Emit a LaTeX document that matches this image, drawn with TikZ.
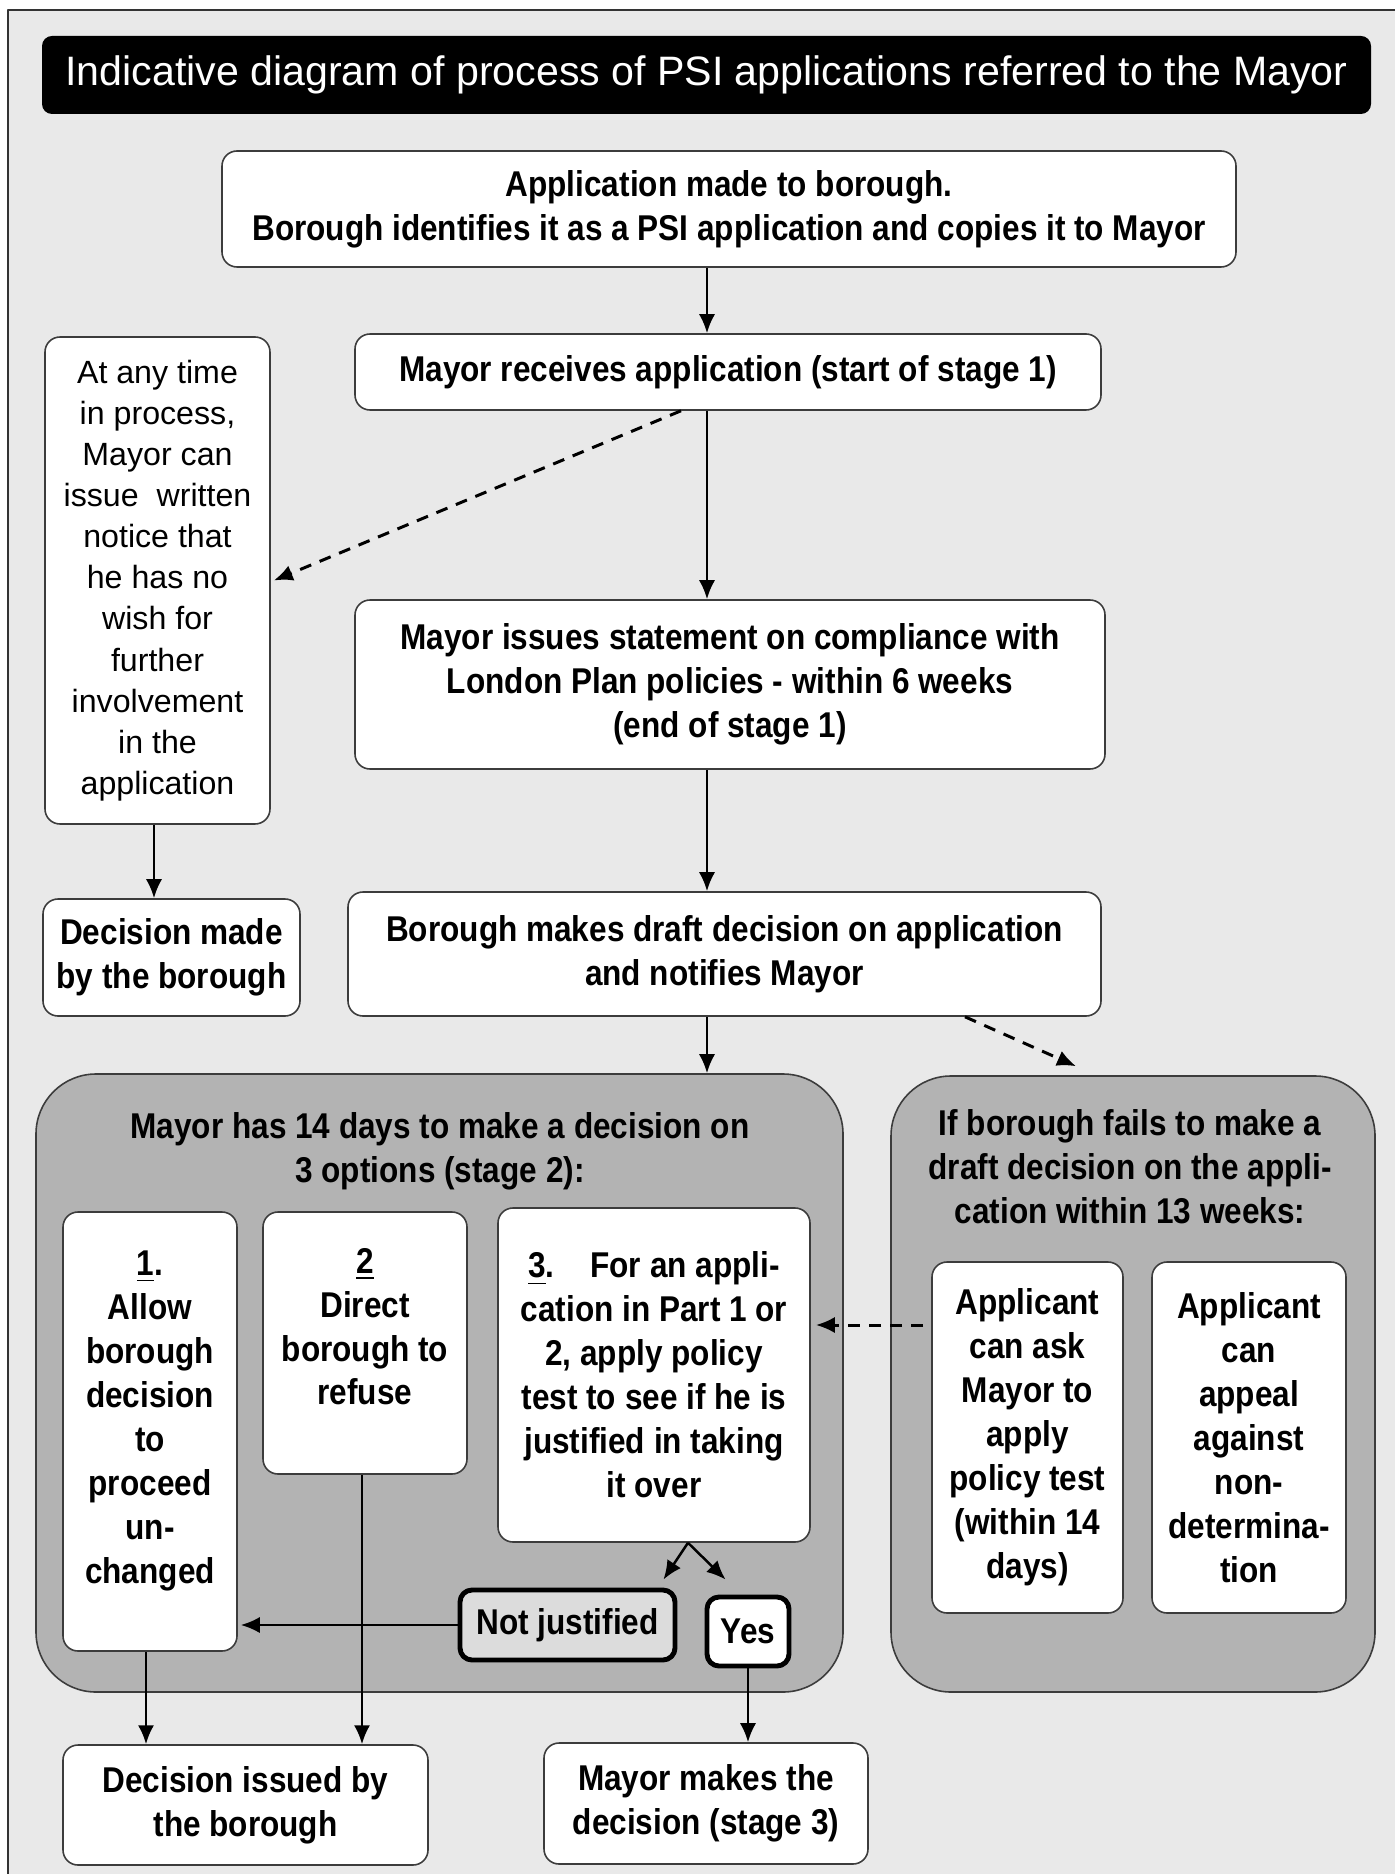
\documentclass[tikz,border=0pt]{standalone}
\usepackage{fontspec}
\setmainfont{Liberation Sans}
\newfontfamily\condfam[FakeStretch=0.88]{Liberation Sans}
\usepackage{tikz}
\usetikzlibrary{arrows.meta,positioning,calc}
\definecolor{pagebg}{HTML}{E9E9E9}
\definecolor{framecol}{HTML}{333333}
\definecolor{panelcol}{HTML}{B3B3B3}
\definecolor{njcol}{HTML}{DCDCDC}
\definecolor{boxline}{HTML}{3C3C3C}
\newcommand{\condtext}{\condfam\bfseries\fontsize{10.2}{12.5}\selectfont}
\tikzset{
  >={Latex[length=5.4pt,width=4.6pt]},
  stepbox/.style={rectangle, rounded corners=0.15cm, draw=boxline, fill=white,
                  line width=0.45pt, align=center, inner sep=0pt, font=\condtext},
  panel/.style={rectangle, rounded corners=0.6cm, draw=boxline, fill=panelcol,
                line width=0.45pt, inner sep=0pt},
  outcome/.style={rectangle, rounded corners=0.12cm, draw=black, line width=1.4pt,
                  align=center, inner sep=0pt, font=\condtext},
  flow/.style={->, line width=0.7pt, black},
  maybe/.style={->, line width=0.85pt, black, dash pattern=on 3.4pt off 2.6pt},
}

\begin{document}
\begin{tikzpicture}[x=1cm, y=-1cm, line join=round]
\useasboundingbox (0,0) rectangle (13.94,18.74);
\fill[white] (0,0) rectangle (13.94,18.74);
\draw[framecol, fill=pagebg, line width=0.6pt] (0.08,0.10) rectangle (14.20,19.00);

% ---- title ----
\node[rectangle, rounded corners=0.1cm, fill=black, text=white, minimum width=13.29cm,
      minimum height=0.78cm, inner sep=0pt, font=\fontsize{11.7}{14}\selectfont]
  (title) at (7.065,0.75) {Indicative diagram of process of PSI applications referred to the Mayor};

% ---- stage 1 spine ----
\node[stepbox, minimum width=10.14cm, minimum height=1.16cm] (appl) at (7.29,2.09)
  {Application made to borough.\\Borough identifies it as a PSI application and copies it to Mayor};
\node[stepbox, minimum width=7.46cm, minimum height=0.76cm] (recv) at (7.28,3.72)
  {Mayor receives application (start of stage 1)};
\node[stepbox, minimum width=7.50cm, minimum height=1.69cm] (stmt) at (7.30,6.845)
  {Mayor issues statement on compliance with\\London Plan policies - within 6 weeks\\(end of stage 1)};
\node[stepbox, minimum width=7.53cm, minimum height=1.24cm] (draft) at (7.245,9.54)
  {Borough makes draft decision on application\\and notifies Mayor};

% ---- withdrawal branch ----
\node[stepbox, font=\fontsize{9.15}{11.7}\selectfont, minimum width=2.25cm, minimum height=4.87cm]
  (notice) at (1.575,5.805)
  {At any time\\in process,\\Mayor can\\issue\ \ written\\notice that\\he has no\\wish for\\further\\involvement\\in the\\application};
\node[stepbox, minimum width=2.57cm, minimum height=1.17cm] (boro) at (1.715,9.575)
  {Decision made\\by the borough};

% ---- stage 2 panels ----
\node[panel, minimum width=8.07cm, minimum height=6.18cm] (stage2) at (4.395,13.83) {};
\node[font=\condtext, align=center, anchor=north] (stage2txt) at (4.40,11.00)
  {Mayor has 14 days to make a decision on\\3 options (stage 2):};
\node[panel, minimum width=4.84cm, minimum height=6.16cm] (lapse) at (11.33,13.84) {};
\node[font=\condtext, align=center, anchor=north] (lapsetxt) at (11.30,10.97)
  {If borough fails to make a\\draft decision on the appli-\\cation within 13 weeks:};

\node[stepbox, minimum width=1.74cm, minimum height=4.39cm] (opt1) at (1.50,14.315)
  {\underline{1}.\\Allow\\borough\\decision\\to\\proceed\\un-\\changed\\[-0.15cm]\mbox{}};
\node[stepbox, minimum width=2.04cm, minimum height=2.62cm] (opt2) at (3.65,13.43)
  {\underline{2}\\Direct\\borough to\\refuse\\[-0.11cm]\mbox{}};
\node[stepbox, minimum width=3.12cm, minimum height=3.34cm] (opt3) at (6.54,13.75)
  {\underline{3}.\quad For an appli-\\cation in Part 1 or\\2, apply policy\\test to see if he is\\justified in taking\\it over};
\node[outcome, fill=njcol, minimum width=2.15cm, minimum height=0.70cm] (nojust) at (5.675,16.25)
  {Not justified};
\node[outcome, fill=white, minimum width=0.82cm, minimum height=0.69cm] (yes) at (7.48,16.315)
  {Yes};

\node[stepbox, minimum width=1.91cm, minimum height=3.51cm] (askmayor) at (10.275,14.375)
  {Applicant\\can ask\\Mayor to\\apply\\policy test\\(within 14\\days)};
\node[stepbox, minimum width=1.94cm, minimum height=3.51cm] (appeal) at (12.49,14.375)
  {Applicant\\can\\appeal\\against\\non-\\determina-\\tion};

% ---- outcomes ----
\node[stepbox, minimum width=3.65cm, minimum height=1.20cm] (issued) at (2.455,18.05)
  {Decision issued by\\the borough};
\node[stepbox, minimum width=3.24cm, minimum height=1.21cm] (mayordec) at (7.06,18.035)
  {Mayor makes the\\decision (stage 3)};

% ---- connectors ----
\coordinate (spine) at (7.07,0);
\coordinate (waive) at (6.81,0);
\coordinate (late) at (9.65,0);
\coordinate (asky) at (0,13.25);
\coordinate (fork) at ([xshift=0.34cm]opt3.south);

\draw[flow] (appl.south -| spine) -- (recv.north -| spine);
\draw[flow] (recv.south -| spine) -- (stmt.north -| spine);
\draw[flow] (stmt.south -| spine) -- (draft.north -| spine);
\draw[flow] (draft.south -| spine) -- (stage2.north -| spine);
\draw[maybe] (recv.south -| waive) -- ([xshift=0.03cm]notice.east);
\draw[maybe] (draft.south -| late) -- ([xshift=-0.57cm,yshift=0.09cm]lapse.north);
\draw[flow] (notice.south -| 1.54,0) -- (boro.north -| 1.54,0);
\draw[maybe, shorten <=0.08cm] (askmayor.west |- asky) -- ([xshift=0.05cm]opt3.east |- asky);

\draw[flow] (fork) -- ([xshift=-0.14cm,yshift=0.08cm]nojust.north east);
\draw[flow] (fork) -- ([xshift=0.21cm,yshift=0.15cm]yes.north west);
\draw[flow] (nojust.west) -- ([xshift=0.03cm]nojust.west -| opt1.east);
\draw[flow] (opt1.south -| 1.46,0) -- (issued.north -| 1.46,0);
\draw[flow] (opt2.south -| 3.62,0) -- (issued.north -| 3.62,0);
\draw[flow] (yes.south) -- (yes.south |- mayordec.north);

\end{tikzpicture}
\end{document}
